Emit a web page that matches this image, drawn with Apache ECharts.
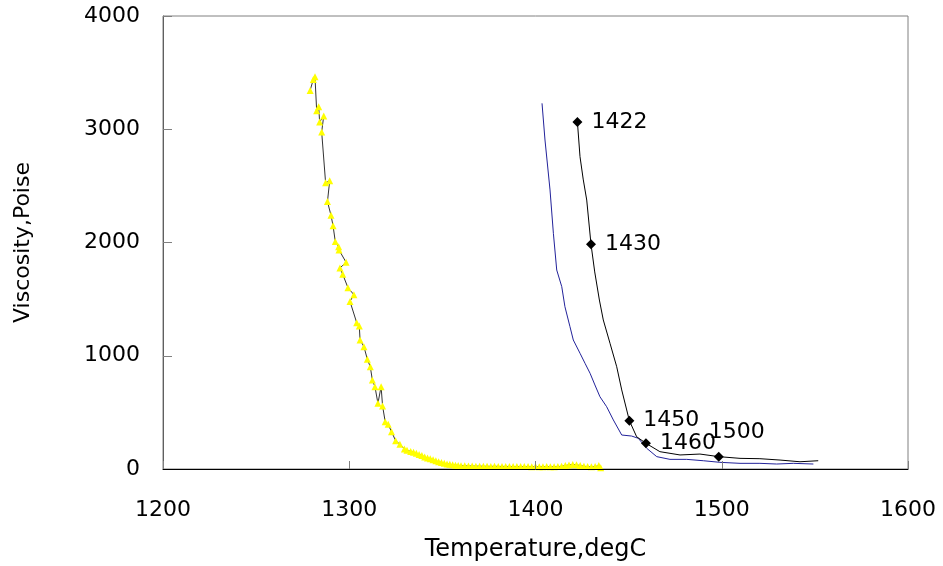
<!DOCTYPE html>
<html>
<head>
<meta charset="utf-8">
<script src="https://cdn.jsdelivr.net/npm/echarts@6/dist/echarts.min.js"></script>
<style>
html,body{margin:0;padding:0;background:#fff;}
#chart{width:943px;height:566px;}
</style>
</head>
<body>
<div id="chart"></div>
<script>
// ---- data ----
var xTicks = [1200, 1300, 1400, 1500, 1600];
var yTicks = [0, 1000, 2000, 3000, 4000];

var yellowT = [1279.0,1280.7,1281.6,1282.5,1283.6,1284.1,1286.3,1285.2,1287.3,1289.5,1288.3,1290.2,1291.3,1292.5,1294.3,1294.5,1298.3,1295.0,1296.5,1299.3,1302.5,1300.4,1304.0,1305.4,1305.8,1307.9,1309.7,1311.3,1312.4,1313.8,1315.4,1317.1,1317.9,1319.3,1320.9,1322.7,1324.9,1327.2,1329.6,1331.0,
  1333,1334.5,1336,1337.5,1339,1340.5,1342,1343.5,1345,1346.5,1348,1349.5,1351,1352.5,1354,1355.5,1357,1358.5,1360,1362,1364,1366,1368,1370,1372,1374,1376,1378,1380,1382,1384,1386,1388,1390,1392,1394,1396,1398,1400,1402,1404,1406,1408,1410,1412,1414,1416,1418,1420,1422,1424,1426,1428,1430,1432,1434,1435];
var yellowV = [3343,3440,3464,3164,3199,3064,3117,2976,2528,2546,2361,2240,2149,2008,1963,1934,1825,1775,1719,1601,1539,1480,1292,1263,1139,1080,969,903,786,727,580,727,556,418,395,329,250,218,177,165,
  155,148,138,128,120,106,97,90,82,72,64,57,50,45,41,37,34,31,29,28,27,26,25,25,24,24,23,24,23,22,23,22,22,21,22,21,21,20,21,20,20,21,20,20,21,24,30,36,40,37,30,24,21,20,21,30,12];

var blueT = [1403.5,1405.1,1407.8,1409.6,1411.4,1414.1,1415.8,1418.5,1420.3,1423.9,1426.6,1429.3,1431.9,1434.6,1438.2,1441.8,1446.3,1451.6,1455.2,1459.7,1465.1,1472.2,1481.2,1490.1,1499.0,1509.8,1520.5,1529.5,1538.4,1549.2];
var blueV = [3229,2905,2464,2081,1757,1610,1433,1257,1139,1022,933,845,742,638,550,433,300,291,271,183,109,85,85,73,59,50,50,44,50,44];

var blackT = [1422.5,1423.9,1425.6,1427.5,1429.8,1431.8,1434.3,1436.4,1440.0,1443.6,1446.3,1450.4,1454.3,1459.3,1466.8,1477.6,1488.3,1498.4,1509.8,1520.5,1531.3,1542.0,1551.8];
var blackV = [3064,2758,2560,2375,1984,1740,1492,1316,1110,903,698,427,285,227,153,124,132,109,94,91,79,64,73];
// point labels (index into black series -> text)
var markIdx = [0, 4, 11, 13, 17];
var markText = ['1422', '1430', '1450', '1460', '1500'];

// ---- build ----
function pairs(a, b) { return a.map(function (v, i) { return [v, b[i]]; }); }

var blackData = pairs(blackT, blackV).map(function (p, i) {
  var k = markIdx.indexOf(i);
  if (k < 0) return { value: p };
  var item = {
    value: p,
    symbol: 'diamond',
    symbolSize: 10,
    label: { show: true, formatter: markText[k], position: 'right', distance: 9 }
  };
  if (markText[k] === '1500') item.label.offset = [-24, -24];
  return item;
});

var FONT = 'DejaVu Sans';
var chart = echarts.init(document.getElementById('chart'), null, { renderer: 'canvas' });
chart.setOption({
  animation: false,
  backgroundColor: '#fff',
  textStyle: { fontFamily: FONT, color: '#000' },
  grid: { left: 163, right: 35, top: 16, bottom: 97, show: true, borderColor: '#808080', borderWidth: 1,
          containLabel: false, outerBoundsMode: 'none' },
  xAxis: {
    type: 'value', min: xTicks[0], max: xTicks[xTicks.length - 1], interval: 100, z: 5,
    name: 'Temperature,degC', nameLocation: 'middle', nameGap: 69,
    nameTextStyle: { fontFamily: FONT, fontSize: 24, color: '#000' },
    axisLine: { show: true, lineStyle: { color: '#000', width: 1 } },
    axisTick: { show: true, inside: true, length: 8, lineStyle: { color: '#808080' } },
    axisLabel: { fontFamily: FONT, fontSize: 22, color: '#000', margin: 30,
                 formatter: function (v) { return String(v); } },
    splitLine: { show: false }
  },
  yAxis: {
    type: 'value', min: yTicks[0], max: yTicks[yTicks.length - 1], interval: 1000, z: 1,
    name: 'Viscosity,Poise', nameLocation: 'middle', nameGap: 129,
    nameTextStyle: { fontFamily: FONT, fontSize: 22, color: '#000' },
    axisLine: { show: true, lineStyle: { color: '#606060', width: 1 } },
    axisTick: { show: true, inside: true, length: 9, lineStyle: { color: '#808080' } },
    axisLabel: { fontFamily: FONT, fontSize: 22, color: '#000', margin: 23,
                 formatter: function (v) { return String(v); } },
    splitLine: { show: false }
  },
  series: [
    {
      type: 'line', data: pairs(yellowT, yellowV),
      symbol: 'triangle', symbolSize: 7, showAllSymbol: true,
      itemStyle: { color: '#FFFF00', borderWidth: 0 },
      lineStyle: { color: '#333', width: 1 },
      z: 3
    },
    {
      type: 'line', data: pairs(blueT, blueV), symbol: 'none',
      lineStyle: { color: '#22229a', width: 1 }, z: 2
    },
    {
      type: 'line', data: blackData, symbol: 'none', showAllSymbol: true,
      itemStyle: { color: '#000' },
      lineStyle: { color: '#000', width: 1 },
      label: { fontFamily: FONT, fontSize: 22, color: '#000' },
      z: 4
    }
  ]
});
</script>
</body>
</html>
